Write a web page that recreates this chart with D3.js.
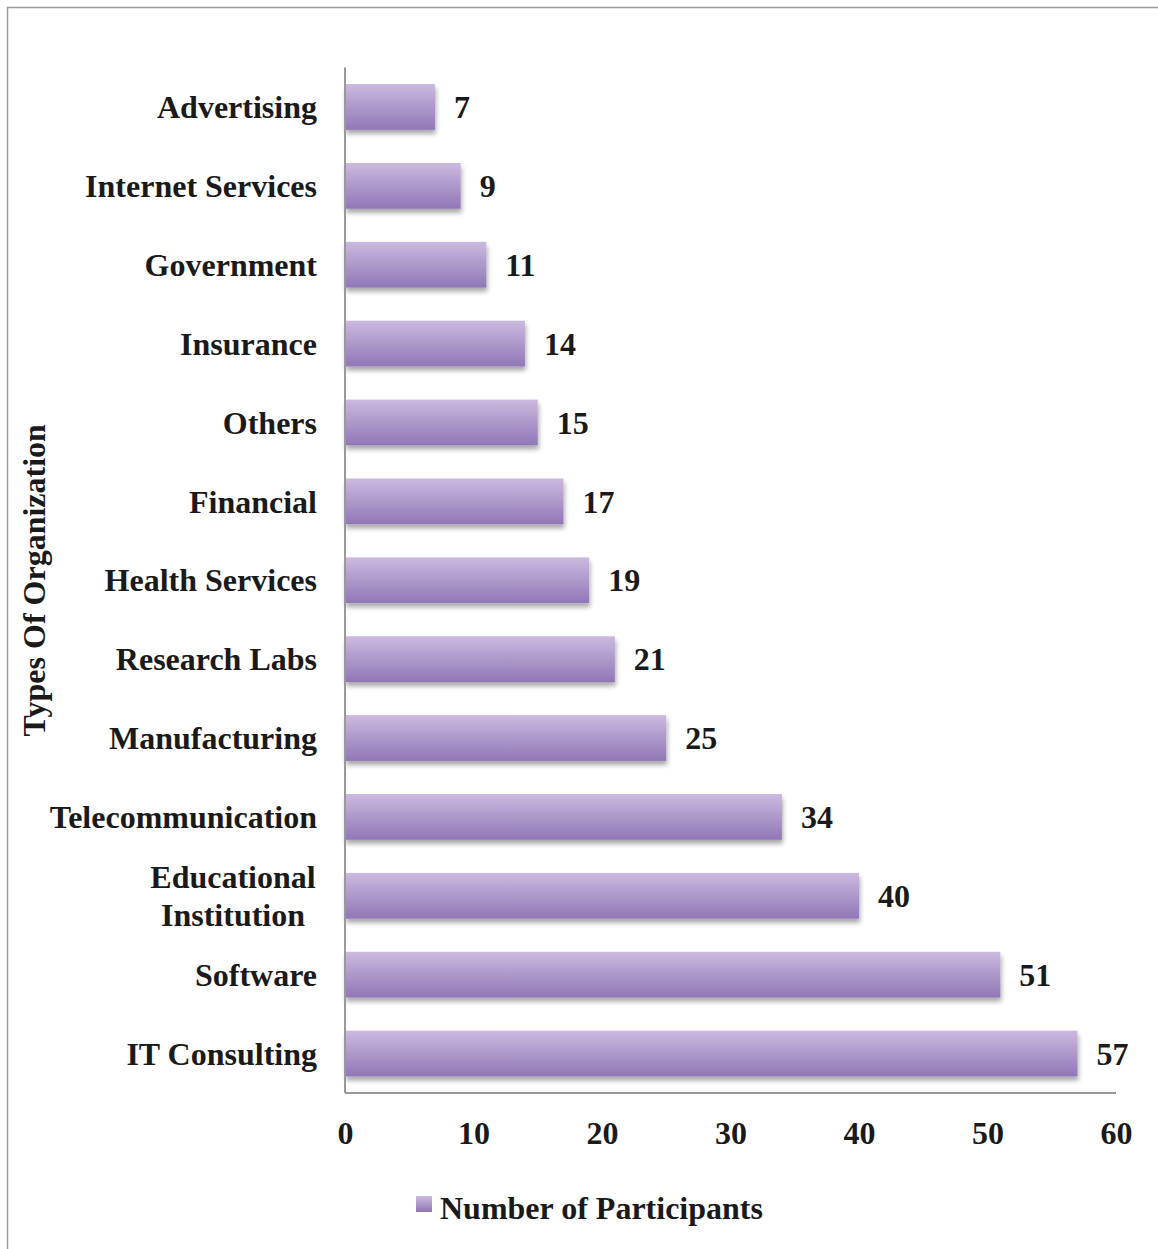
<!DOCTYPE html>
<html>
<head>
<meta charset="utf-8">
<script src="https://cdn.jsdelivr.net/npm/d3@7"></script>
<style>
  html, body { margin: 0; padding: 0; background: #fff; }
  svg { display: block; }
  text { font-family: "Liberation Serif", "Times New Roman", serif; font-weight: bold; fill: #1a1a1a; }
</style>
</head>
<body>
<svg id="chart" width="1158" height="1249"></svg>
<script>
// Organization types (top to bottom) and participant counts
const categories = [
  "Advertising", "Internet Services", "Government", "Insurance", "Others",
  "Financial", "Health Services", "Research Labs", "Manufacturing",
  "Telecommunication", "Educational Institution", "Software", "IT Consulting"
];
const participants = [7, 9, 11, 14, 15, 17, 19, 21, 25, 34, 40, 51, 57];
const xTicks = [0, 10, 20, 30, 40, 50, 60];
const seriesName = "Number of Participants";
const axisTitle = "Types Of Organization";

const rows = categories.map((c, i) => ({ name: c, value: participants[i] }));

const svg = d3.select("#chart");

// Outer frame: top and left edges only
svg.append("path")
  .attr("d", "M7.5,1249 L7.5,7.5 L1158,7.5")
  .attr("fill", "none")
  .attr("stroke", "#9a9a9a")
  .attr("stroke-width", 1.5);

const defs = svg.append("defs");
const grad = defs.append("linearGradient")
  .attr("id", "barFill").attr("x1", 0).attr("y1", 0).attr("x2", 0).attr("y2", 1);
grad.append("stop").attr("offset", "0%").attr("stop-color", "#cbbadf");
grad.append("stop").attr("offset", "100%").attr("stop-color", "#9077b7");

const shadow = defs.append("filter").attr("id", "barShadow")
  .attr("x", "-5%").attr("y", "-20%").attr("width", "110%").attr("height", "160%");
shadow.append("feGaussianBlur").attr("in", "SourceAlpha").attr("stdDeviation", 2.5).attr("result", "b");
shadow.append("feOffset").attr("in", "b").attr("dx", 1).attr("dy", 4).attr("result", "o");
shadow.append("feComponentTransfer").attr("in", "o").attr("result", "s")
  .append("feFuncA").attr("type", "linear").attr("slope", 0.35);
const merge = shadow.append("feMerge");
merge.append("feMergeNode").attr("in", "s");
merge.append("feMergeNode").attr("in", "SourceGraphic");

const plotLeft = 345, plotRight = 1116, plotTop = 67.5, plotBottom = 1093;
const fontSize = "32px";

const x = d3.scaleLinear().domain([0, 60]).range([plotLeft, plotRight]);
const y = d3.scaleBand().domain(categories).range([plotTop, plotBottom]).paddingInner(0.42).paddingOuter(0.21);

// Bars
svg.append("g").selectAll("rect")
  .data(rows).join("rect")
  .attr("x", x(0))
  .attr("y", d => y(d.name))
  .attr("width", d => x(d.value) - x(0))
  .attr("height", y.bandwidth())
  .attr("fill", "url(#barFill)")
  .attr("filter", "url(#barShadow)");

// Value labels
svg.append("g").selectAll("text")
  .data(rows).join("text")
  .attr("x", d => x(d.value) + 19)
  .attr("y", d => y(d.name) + y.bandwidth() / 2)
  .attr("dy", "0.35em")
  .style("font-size", fontSize)
  .text(d => d.value);

// Axis lines
svg.append("line")
  .attr("x1", plotLeft).attr("x2", plotLeft).attr("y1", plotTop).attr("y2", plotBottom)
  .attr("stroke", "#999").attr("stroke-width", 2);
svg.append("line")
  .attr("x1", plotLeft).attr("x2", plotRight).attr("y1", plotBottom).attr("y2", plotBottom)
  .attr("stroke", "#999").attr("stroke-width", 2);

// X tick labels
const xAxis = svg.append("g")
  .attr("transform", `translate(0,${plotBottom})`)
  .call(d3.axisBottom(x).tickValues(xTicks).tickSize(0).tickPadding(0));
xAxis.select(".domain").remove();
xAxis.selectAll("text")
  .attr("y", 0).attr("dy", 0)
  .attr("transform", "translate(0,51)")
  .style("font-size", fontSize)
  .style("font-family", "'Liberation Serif', serif")
  .attr("fill", "#1a1a1a");

// Category labels (wrapping the long one onto two lines)
const catG = svg.append("g");
rows.forEach(d => {
  const cy = y(d.name) + y.bandwidth() / 2;
  if (d.name === "Educational Institution") {
    const t = catG.append("text").attr("text-anchor", "middle").style("font-size", fontSize);
    t.append("tspan").attr("x", 233).attr("y", cy - 19).attr("dy", "0.35em").text("Educational");
    t.append("tspan").attr("x", 233).attr("y", cy + 19).attr("dy", "0.35em").text("Institution");
  } else {
    catG.append("text")
      .attr("x", 317).attr("y", cy).attr("dy", "0.35em")
      .attr("text-anchor", "end")
      .style("font-size", fontSize)
      .text(d.name);
  }
});

// Axis title
svg.append("text")
  .attr("transform", `translate(45,${(plotTop + plotBottom) / 2}) rotate(-90)`)
  .attr("text-anchor", "middle")
  .style("font-size", fontSize)
  .text(axisTitle);

// Legend
const lg = svg.append("g").attr("transform", "translate(416,1196)");
lg.append("rect").attr("width", 16).attr("height", 16).attr("fill", "url(#barFill)");
lg.append("text").attr("x", 24).attr("y", 12).attr("dy", "0.35em")
  .style("font-size", fontSize).text(seriesName);
</script>
</body>
</html>
